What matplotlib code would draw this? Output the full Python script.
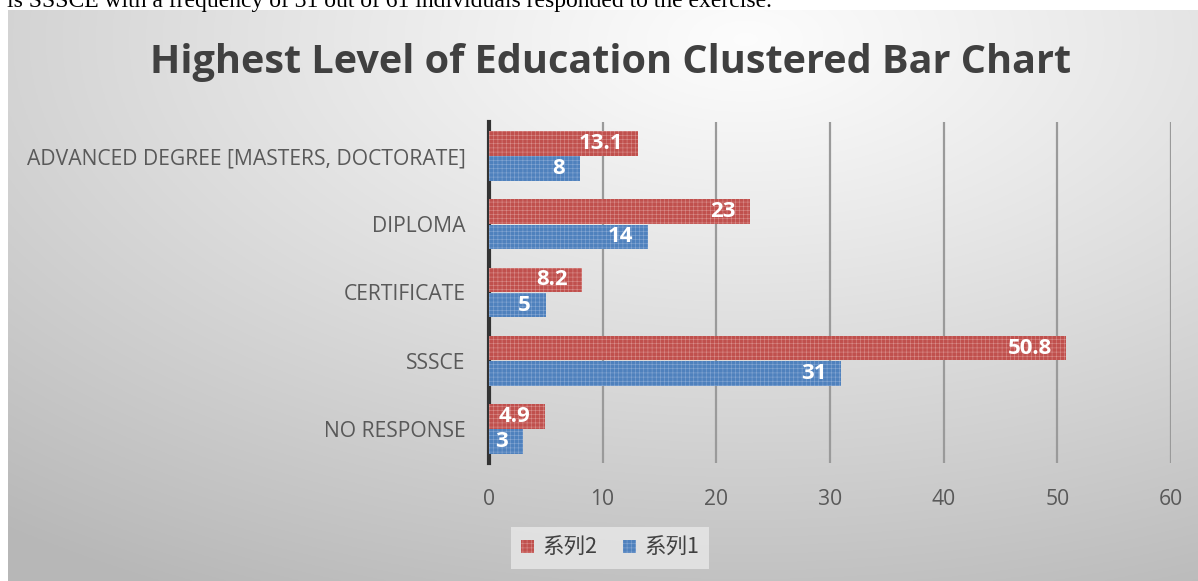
import numpy as np
import matplotlib
matplotlib.use("Agg")
import matplotlib.pyplot as plt

categories = ["NO RESPONSE", "SSSCE", "CERTIFICATE", "DIPLOMA",
              "ADVANCED DEGREE [MASTERS, DOCTORATE]"]
series1 = [3, 31, 5, 14, 8]          # 系列1 (blue)
series2 = [4.9, 50.8, 8.2, 23, 13.1]  # 系列2 (red)
series_names = ["系列2", "系列1"]
xticks = [0, 10, 20, 30, 40, 50, 60]
title = "Highest Level of Education Clustered Bar Chart"
doc_text = "is SSSCE with a frequency of 31 out of 61 individuals responded to the exercise."

W, H = 1198, 581
plt.rcParams["hatch.linewidth"] = 0.4
fig = plt.figure(figsize=(W / 100, H / 100), dpi=100)
fig.patch.set_facecolor("white")

# Gradient panel background
px0, py0 = 8, 10
bg = fig.add_axes([px0 / W, 0, 1 - px0 / W, 1 - py0 / H])
bg.set_axis_off()
yy, xx = np.mgrid[0:1:300j, 0:1:600j]
d = np.sqrt(((xx - 0.62) / 1.0) ** 2 + ((yy - 0.05) / 1.1) ** 2)
val = 0.99 - 0.27 * np.clip(d, 0, 1) ** 1.1
img = np.dstack([val, val, val])
bg.imshow(img, aspect="auto", extent=[0, 1, 0, 1], origin="upper")
bg.set_xlim(0, 1)
bg.set_ylim(0, 1)

# top document text (cut off, as in the source screenshot)
fig.text(0.006, 1 - 1 / H, doc_text, fontsize=17, family="Liberation Serif",
         color="black", va="center", ha="left")

# Main axes
ax_l, ax_r = 489, 1171
ax_t, ax_b = 122, 463
ax = fig.add_axes([ax_l / W, 1 - ax_b / H, (ax_r - ax_l) / W, (ax_b - ax_t) / H])
ax.patch.set_alpha(0)

y = np.arange(len(categories))
h = 0.36
red = "#C0504D"
blue = "#4F81BD"
b2 = ax.barh(y + h / 2 + 0.005, series2, height=h, color=red, hatch="++++",
             edgecolor="#D98E8B", linewidth=0, zorder=3)
b1 = ax.barh(y - h / 2 - 0.005, series1, height=h, color=blue, hatch="++++",
             edgecolor="#86A7D3", linewidth=0, zorder=3)

for bars, vals in ((b2, series2), (b1, series1)):
    for r, v in zip(bars, vals):
        ax.text(r.get_width() - 1.3, r.get_y() + r.get_height() / 2,
                f"{v:g}", ha="right", va="center", color="white",
                fontsize=16, fontweight="bold", family="Open Sans", zorder=4)

ax.set_xlim(0, 60)
ax.set_ylim(-0.5, len(categories) - 0.5)
ax.set_xticks(xticks)
ax.set_yticks(y)
ax.set_yticklabels(categories)
ax.grid(axis="x", color="#9A9A9A", linewidth=1.6, zorder=0)
ax.set_axisbelow(True)
for s in ("top", "right", "bottom"):
    ax.spines[s].set_visible(False)
ax.spines["left"].set_color("#333333")
ax.spines["left"].set_linewidth(3)
ax.tick_params(axis="both", length=0, labelsize=15.2, labelcolor="#595959")
ax.tick_params(axis="x", pad=19)
ax.tick_params(axis="y", pad=17)
for lab in ax.get_xticklabels() + ax.get_yticklabels():
    lab.set_family("Open Sans")

fig.text(611 / W, 1 - 62 / H, title, ha="center", va="center",
         fontsize=28.5, fontweight="bold", family="Open Sans", color="#404040")

# Legend
leg = fig.legend([b2, b1], series_names, loc="center",
                 bbox_to_anchor=(610 / W, 1 - 548 / H), ncol=2,
                 prop={"family": ["Noto Sans CJK SC", "DejaVu Sans"], "size": 15.5},
                 frameon=True, handlelength=0.6, handleheight=0.6,
                 columnspacing=1.2, handletextpad=0.4, borderpad=0.45)
leg.get_frame().set_facecolor("#E8E8E8")
leg.get_frame().set_edgecolor("none")
leg.get_frame().set_boxstyle("square", pad=0)
for t in leg.get_texts():
    t.set_color("#404040")

fig.savefig("out.png", dpi=100)
